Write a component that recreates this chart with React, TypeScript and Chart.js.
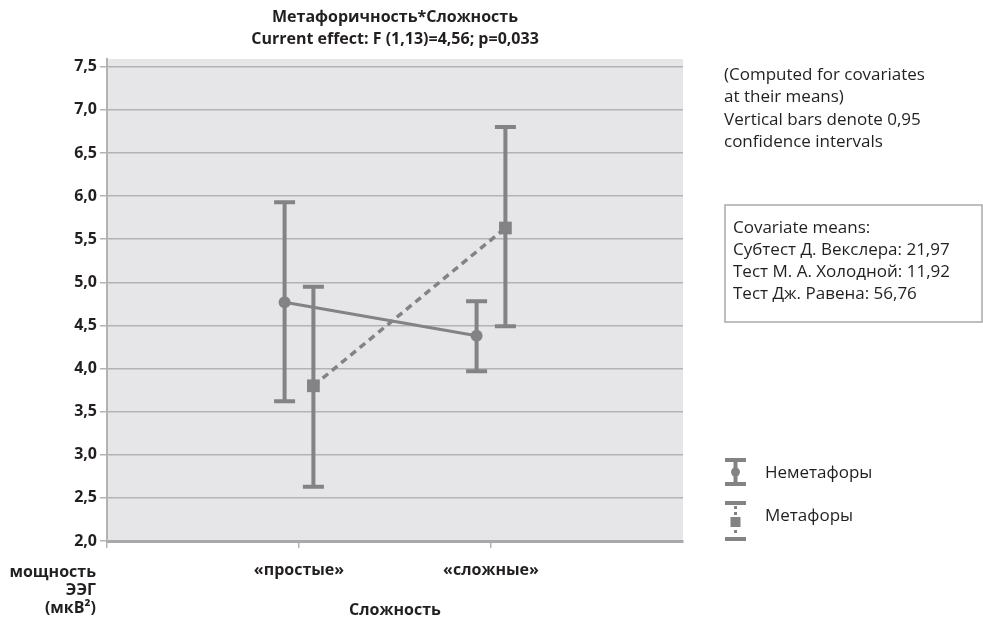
import { useEffect, useRef } from "react";
import { Chart, registerables } from "chart.js";

Chart.register(...registerables);

const categories = ["«простые»", "«сложные»"];
const seriesNames = ["Неметафоры", "Метафоры"];
const nemetaMeans = [4.77, 4.38];
const nemetaLower = [3.62, 3.97];
const nemetaUpper = [5.93, 4.78];
const metaMeans = [3.8, 5.63];
const metaLower = [2.63, 4.49];
const metaUpper = [4.95, 6.8];
const yTicks = [2.0, 2.5, 3.0, 3.5, 4.0, 4.5, 5.0, 5.5, 6.0, 6.5, 7.0, 7.5];
const titleLines = ["Метафоричность*Сложность", "Current effect: F (1,13)=4,56; p=0,033"];
const noteLines = ["(Computed for covariates", "at their means)", "Vertical bars denote 0,95", "confidence intervals"];
const covariateLines = ["Covariate means:", "Субтест Д. Векслера: 21,97", "Тест М. А. Холодной: 11,92", "Тест Дж. Равена: 56,76"];
const yTitleLines = ["мощность", "ЭЭГ", "(мкВ²)"];
const xTitle = "Сложность";

const FONT = "'Open Sans', 'Noto Sans', sans-serif";
const MARK = "#838385";
const GRID = "#b3b3b5";
const TEXT = "#231f20";
const DODGE = 0.075;

const errorBars = [
  { lower: nemetaLower, upper: nemetaUpper },
  { lower: metaLower, upper: metaUpper },
];

const chartPlugin = {
  id: "custom",
  beforeDraw(chart: any) {
    const { ctx, chartArea } = chart;
    ctx.save();
    ctx.fillStyle = "#e6e6e8";
    ctx.fillRect(chartArea.left, chartArea.top, chartArea.right - chartArea.left, chartArea.bottom - chartArea.top);
    ctx.restore();
  },
  beforeDatasetsDraw(chart: any) {
    const { ctx } = chart;
    const yScale = chart.scales.y;
    ctx.save();
    ctx.strokeStyle = MARK;
    ctx.lineWidth = 4;
    errorBars.forEach((eb, di) => {
      const meta = chart.getDatasetMeta(di);
      meta.data.forEach((pt: any, i: number) => {
        const x = pt.x;
        const yl = yScale.getPixelForValue(eb.lower[i]);
        const yu = yScale.getPixelForValue(eb.upper[i]);
        ctx.beginPath();
        ctx.moveTo(x, yl);
        ctx.lineTo(x, yu);
        ctx.moveTo(x - 10.5, yl);
        ctx.lineTo(x + 10.5, yl);
        ctx.moveTo(x - 10.5, yu);
        ctx.lineTo(x + 10.5, yu);
        ctx.stroke();
      });
    });
    ctx.restore();
  },
  afterDraw(chart: any) {
    const { ctx, chartArea } = chart;
    ctx.save();
    ctx.fillStyle = TEXT;
    ctx.textBaseline = "middle";
    // title
    ctx.textAlign = "center";
    ctx.font = `bold 16px ${FONT}`;
    const cx = (chartArea.left + chartArea.right) / 2;
    ctx.fillText(titleLines[0], cx, 17);
    ctx.fillText(titleLines[1], cx, 39);
    // x title
    ctx.font = `bold 16px ${FONT}`;
    ctx.fillText(xTitle, cx, 610);
    // y title
    ctx.textAlign = "right";
    ctx.fillText(yTitleLines[0], 96, 572);
    ctx.fillText(yTitleLines[1], 96, 590);
    ctx.fillText(yTitleLines[2], 96, 608);
    // notes
    ctx.textAlign = "left";
    ctx.font = `17px ${FONT}`;
    noteLines.forEach((l, i) => ctx.fillText(l, 724, 75 + i * 22.5));
    // covariate box
    ctx.strokeStyle = "#a9a9ab";
    ctx.lineWidth = 1.5;
    ctx.strokeRect(725, 205, 257, 117);
    covariateLines.forEach((l, i) => ctx.fillText(l, 733, 228 + i * 22));
    // legend
    const lx = 735.5;
    ctx.strokeStyle = MARK;
    ctx.fillStyle = MARK;
    ctx.lineWidth = 4;
    ctx.beginPath();
    ctx.moveTo(lx - 10.5, 460); ctx.lineTo(lx + 10.5, 460);
    ctx.moveTo(lx - 10.5, 484); ctx.lineTo(lx + 10.5, 484);
    ctx.moveTo(lx, 460); ctx.lineTo(lx, 484);
    ctx.stroke();
    ctx.beginPath();
    ctx.arc(lx, 472, 4.5, 0, Math.PI * 2);
    ctx.fill();
    ctx.beginPath();
    ctx.moveTo(lx - 10.5, 503); ctx.lineTo(lx + 10.5, 503);
    ctx.moveTo(lx - 10.5, 539); ctx.lineTo(lx + 10.5, 539);
    ctx.stroke();
    ctx.lineWidth = 3;
    ctx.setLineDash([3, 3]);
    ctx.beginPath();
    ctx.moveTo(lx, 506); ctx.lineTo(lx, 536);
    ctx.stroke();
    ctx.setLineDash([]);
    ctx.fillRect(lx - 5, 517, 10, 10);
    ctx.fillStyle = TEXT;
    ctx.font = `17px ${FONT}`;
    ctx.fillText(seriesNames[0], 765, 473);
    ctx.fillText(seriesNames[1], 765, 516);
    ctx.restore();
  },
};

export default function App() {
  const ref = useRef<HTMLCanvasElement>(null);
  useEffect(() => {
    document.body.style.margin = "0";
    const canvas = ref.current!;
    const chart = new Chart(canvas, {
      type: "scatter",
      data: {
        datasets: [
          {
            label: seriesNames[0],
            data: nemetaMeans.map((v, i) => ({ x: i + 1 - DODGE, y: v })),
            showLine: true,
            borderColor: MARK,
            backgroundColor: MARK,
            borderWidth: 3,
            pointStyle: "circle",
            pointRadius: 6,
            pointBorderWidth: 0,
          },
          {
            label: seriesNames[1],
            data: metaMeans.map((v, i) => ({ x: i + 1 + DODGE, y: v })),
            showLine: true,
            borderColor: MARK,
            backgroundColor: MARK,
            borderWidth: 3.5,
            borderDash: [7, 5],
            pointStyle: "rect",
            pointRadius: 9,
            pointBorderWidth: 0,
          },
        ],
      },
      options: {
        animation: false,
        responsive: false,
        devicePixelRatio: 1,
        layout: { padding: { top: 59, right: 300, left: 0, bottom: 0 } },
        plugins: { legend: { display: false }, tooltip: { enabled: false }, title: { display: false } },
        scales: {
          x: {
            type: "linear",
            min: 0,
            max: 3,
            afterBuildTicks: (s: any) => {
              s.ticks = [0, 1, 2, 3].map((v) => ({ value: v }));
            },
            afterFit: (s: any) => {
              s.height = 85;
            },
            grid: {
              drawOnChartArea: false,
              tickLength: 7,
              lineWidth: 1.5,
              color: (c: any) => (c.tick && c.tick.value === 3 ? "rgba(0,0,0,0)" : GRID),
            },
            border: { color: "#a9a9ab", width: 3 },
            ticks: {
              autoSkip: false,
              maxRotation: 0,
              padding: 13,
              color: TEXT,
              font: { family: FONT, size: 16, weight: "bold" },
              callback: (v: any) => categories[Number(v) - 1] ?? "",
            },
          },
          y: {
            min: 2.0,
            max: 7.59,
            afterBuildTicks: (s: any) => {
              s.ticks = yTicks.map((v) => ({ value: v }));
            },
            afterFit: (s: any) => {
              s.width = 107;
            },
            grid: { color: GRID, lineWidth: 1.5, tickLength: 7 },
            border: { color: "#b3b3b5", width: 2 },
            ticks: {
              padding: 3,
              color: TEXT,
              font: { family: FONT, size: 16, weight: "bold" },
              callback: (v: any) => Number(v).toFixed(1).replace(".", ","),
            },
          },
        },
      },
      plugins: [chartPlugin],
    });
    return () => chart.destroy();
  }, []);
  return <canvas ref={ref} width={983} height={626} style={{ display: "block" }} />;
}
